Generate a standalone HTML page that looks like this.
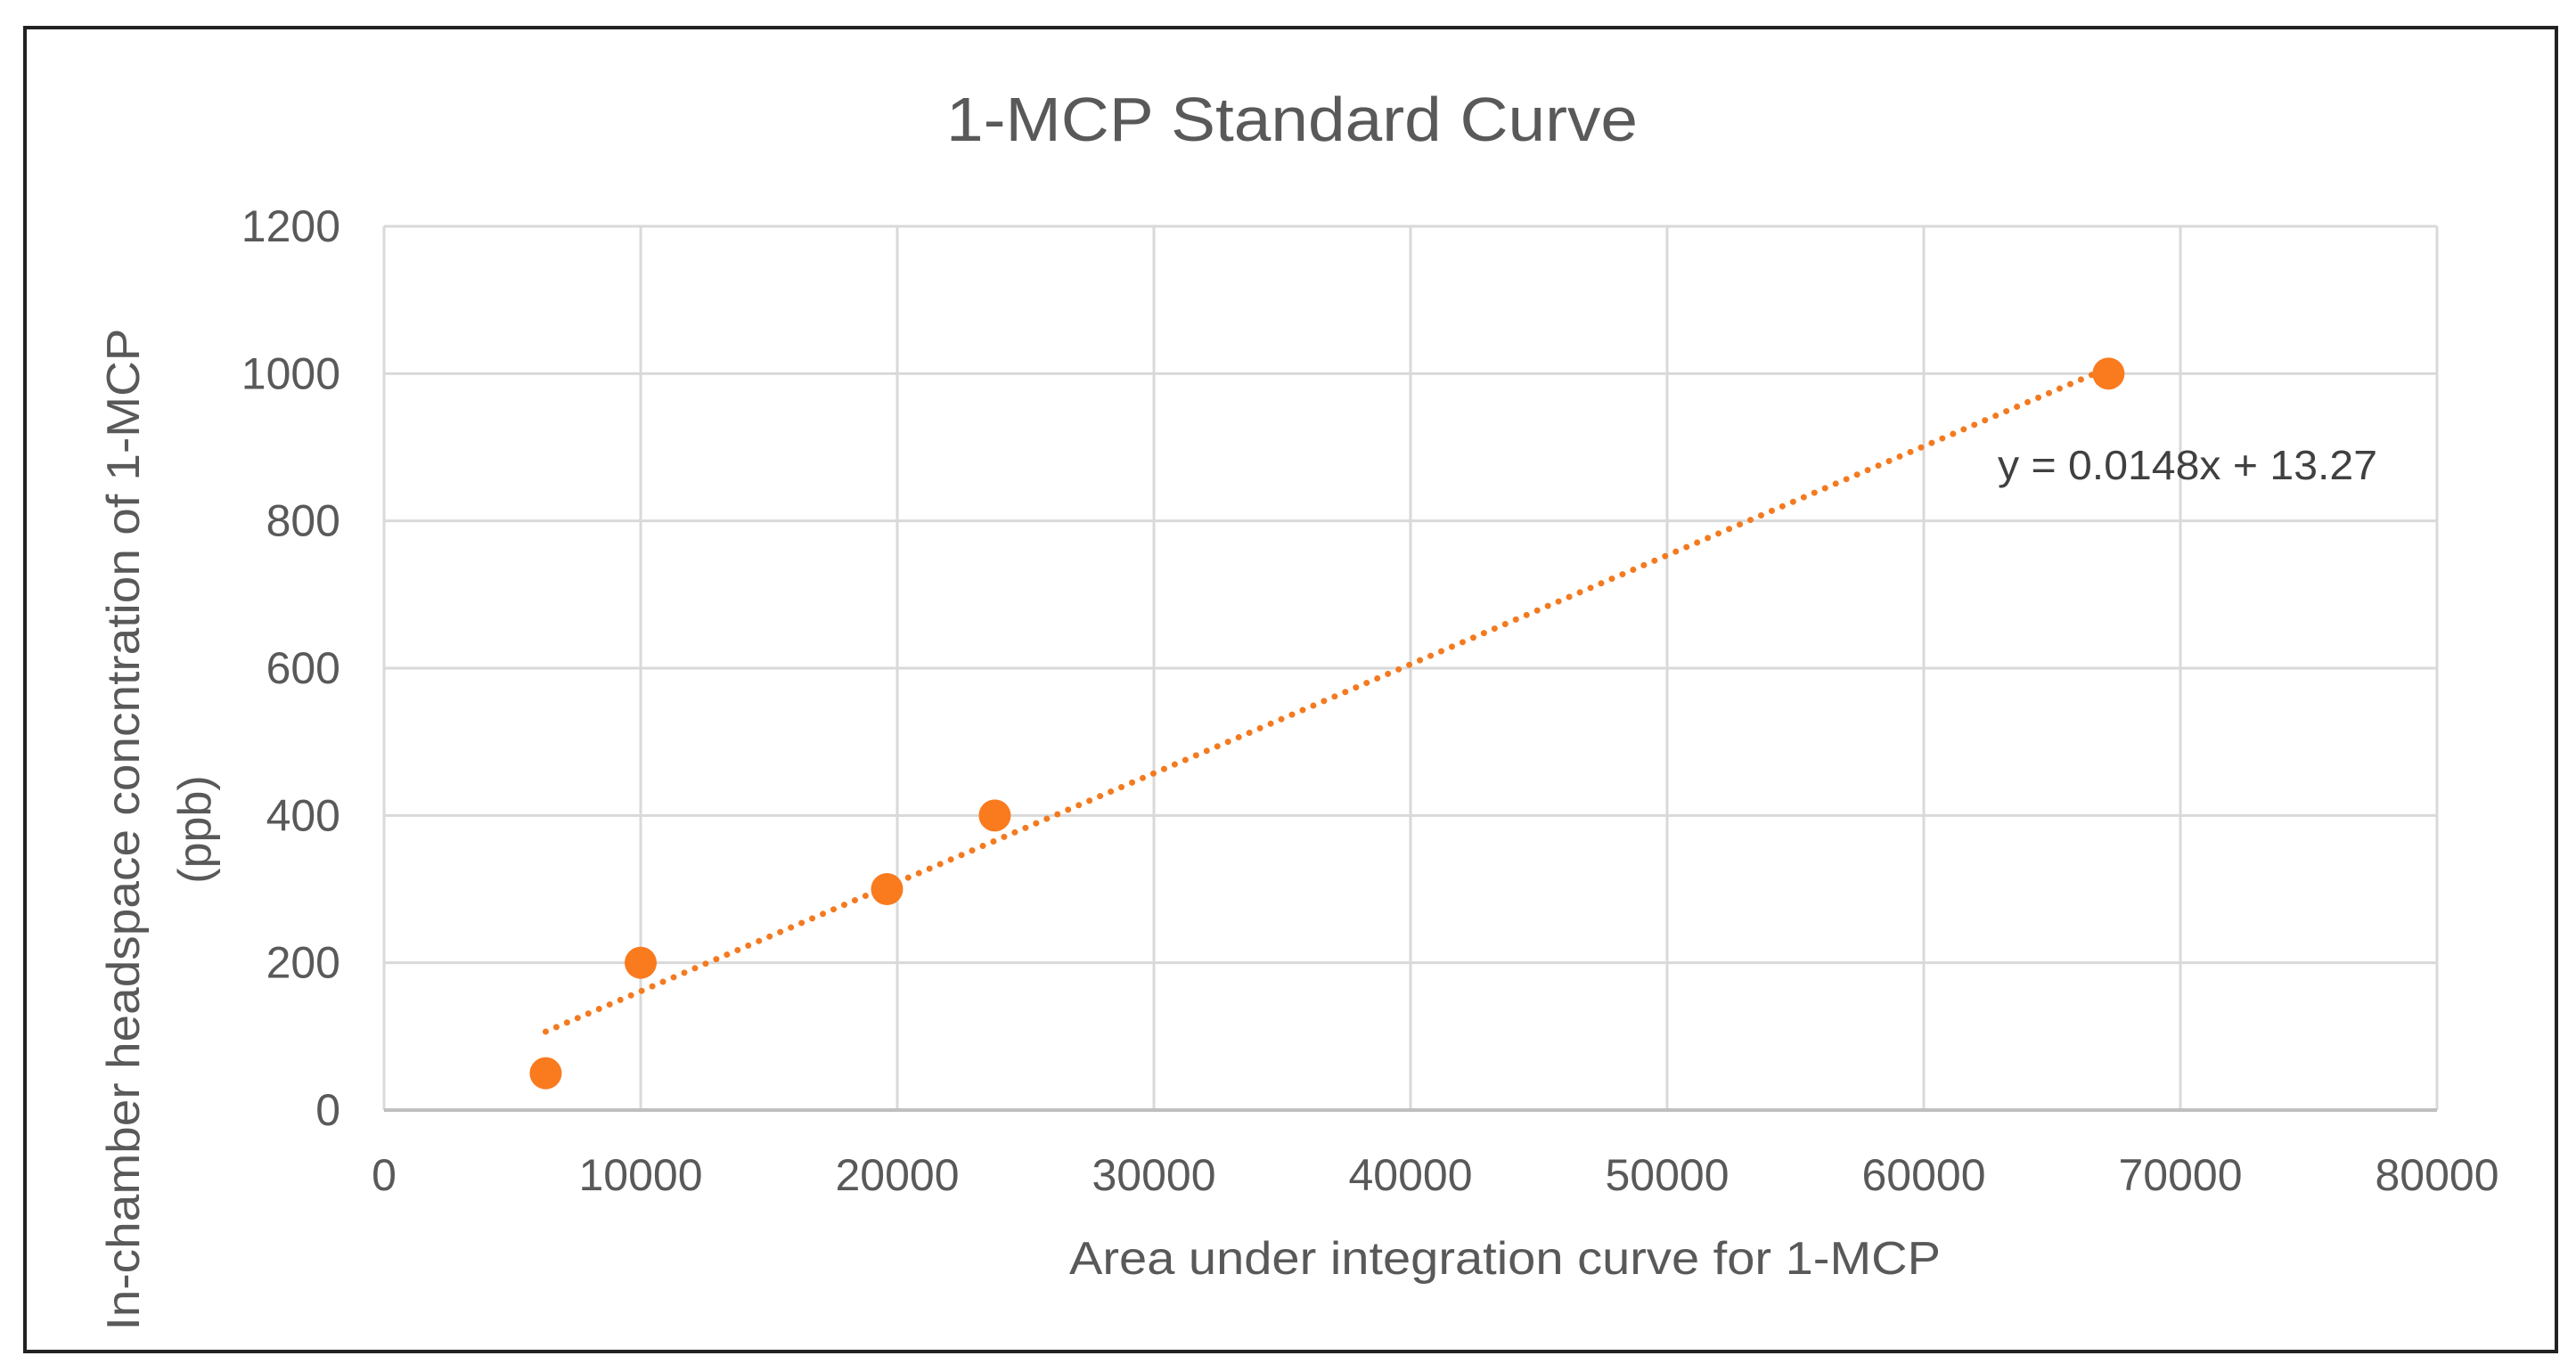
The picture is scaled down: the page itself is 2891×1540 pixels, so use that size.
<!DOCTYPE html>
<html><head><meta charset="utf-8"><style>
html,body{margin:0;padding:0;background:#fff;}
svg{display:block;font-family:"Liberation Sans",sans-serif;}
</style></head><body>
<svg id="chart" width="2891" height="1540" viewBox="0 0 2891 1540">
<rect x="28" y="31" width="2841" height="1486" fill="#fff" stroke="#222" stroke-width="4"/>
<text x="1450" y="158" font-size="70" fill="#595959" text-anchor="middle" textLength="776" lengthAdjust="spacingAndGlyphs">1-MCP Standard Curve</text>
<g id="grid"></g>
<g id="ticks"></g>
<g id="trend"></g>
<g id="points"></g>
<text x="2455" y="538" font-size="46" fill="#404040" text-anchor="middle" textLength="426" lengthAdjust="spacingAndGlyphs">y = 0.0148x + 13.27</text>
<text x="1689" y="1430" font-size="52" fill="#595959" text-anchor="middle" textLength="978" lengthAdjust="spacingAndGlyphs">Area under integration curve for 1-MCP</text>
<text transform="translate(156,931) rotate(-90)" font-size="52" fill="#595959" text-anchor="middle" textLength="1125" lengthAdjust="spacingAndGlyphs">In-chamber headspace concntration of 1-MCP</text>
<text transform="translate(236,931) rotate(-90)" font-size="52" fill="#595959" text-anchor="middle">(ppb)</text>
</svg>
<script>
const xValues = [6300, 10000, 19600, 23800, 67200];
const yValues = [50, 200, 300, 400, 1000];
const xTicks = [0,10000,20000,30000,40000,50000,60000,70000,80000];
const yTicks = [0,200,400,600,800,1000,1200];
const trendSlope = 0.0148;
const trendIntercept = 13.27;

const L=431,R=2735,T=254,B=1246;
function sx(v){return L+(v-0)/(80000-0)*(R-L);}
function sy(v){return B-(v-0)/(1200-0)*(B-T);}
const NS="http://www.w3.org/2000/svg";
function mk(tag,attrs,parent){const e=document.createElementNS(NS,tag);for(const k in attrs)e.setAttribute(k,attrs[k]);parent.appendChild(e);return e;}
const grid=document.getElementById('grid'),ticks=document.getElementById('ticks');
xTicks.forEach(t=>{
  const l=mk('line',{x1:sx(t),x2:sx(t),y1:T,y2:B,stroke:'#d9d9d9','stroke-width':3},grid);
  
  
  const tx=mk('text',{x:sx(t),y:1336,'font-size':50,fill:'#595959','text-anchor':'middle'},ticks);
  tx.textContent=t;
  
  
});
yTicks.forEach(t=>{
  const l=mk('line',{x1:L,x2:R,y1:sy(t),y2:sy(t),stroke:t===0?'#bfbfbf':'#d9d9d9','stroke-width':t===0?4:3},grid);
  
  
  const tx=mk('text',{x:382,y:sy(t)+17,'font-size':50,fill:'#595959','text-anchor':'end'},ticks);
  tx.textContent=t;
  
  
});
const x0=Math.min(...xValues),x1=Math.max(...xValues);
const tl=mk('line',{x1:sx(x0),y1:sy(trendSlope*x0+trendIntercept),x2:sx(x1),y2:sy(trendSlope*x1+trendIntercept),stroke:'#F47A20','stroke-width':7,'stroke-dasharray':'0 13','stroke-linecap':'round'},document.getElementById('trend'));


const pts=document.getElementById('points');
xValues.forEach((x,i)=>{
  const c=mk('circle',{cx:sx(x),cy:sy(yValues[i]),r:18,fill:'#FA7A1E'},pts);
  
  
});
</script>
</body></html>
